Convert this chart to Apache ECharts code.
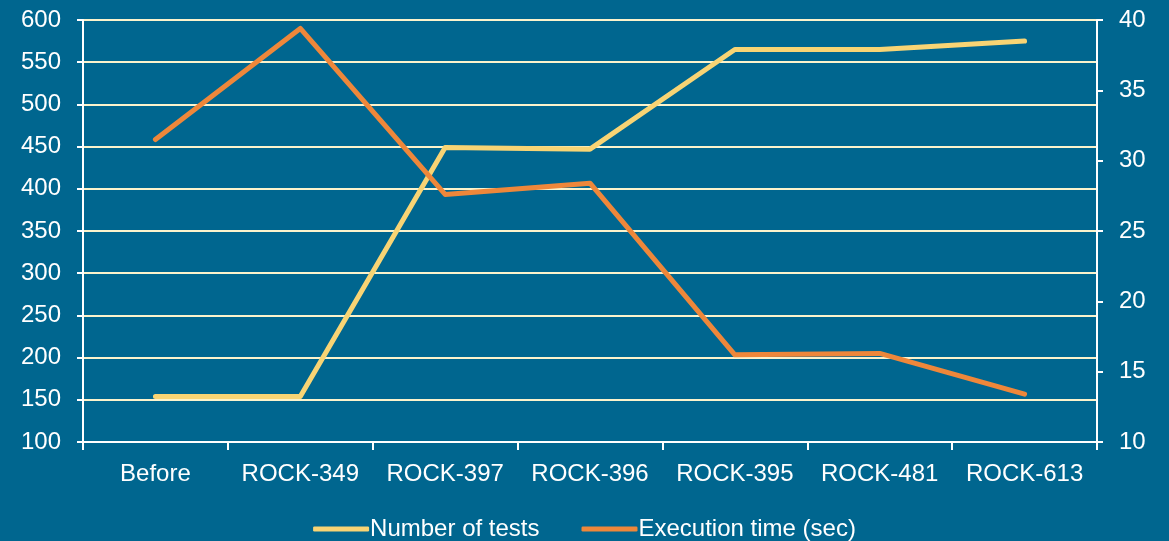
<!DOCTYPE html>
<html>
<head>
<meta charset="utf-8">
<script src="https://cdn.jsdelivr.net/npm/echarts@6/dist/echarts.min.js"></script>
<style>
html,body{margin:0;padding:0;background:#00668f;}
#chart{width:1169px;height:541px;}
</style>
</head>
<body>
<div id="chart"></div>
<script>
const categories = ['Before','ROCK-349','ROCK-397','ROCK-396','ROCK-395','ROCK-481','ROCK-613'];
const numberOfTests = [154, 154, 449, 447, 565, 565, 575];
const executionTime = [31.5, 39.4, 27.6, 28.4, 16.2, 16.3, 13.4];
const leftTicks = {min: 100, max: 600, interval: 50};
const rightTicks = {min: 10, max: 40, interval: 5};

const FONT = '"Liberation Sans", Arial, sans-serif';
const chart = echarts.init(document.getElementById('chart'), null, {renderer: 'canvas'});
chart.setOption({
  backgroundColor: '#00668f',
  animation: false,
  textStyle: {fontFamily: FONT},
  grid: {left: 83, right: 72, top: 20, bottom: 99, containLabel: false},
  legend: {
    top: 512,
    left: 'center',
    itemWidth: 56,
    itemHeight: 5,
    itemGap: 42,
    icon: 'roundRect',
    textStyle: {color: '#ffffff', fontSize: 24, fontFamily: FONT, padding: [0,0,0,-4]},
    data: ['Number of tests', 'Execution time (sec)']
  },
  xAxis: {
    type: 'category',
    data: categories,
    boundaryGap: true,
    axisLine: {lineStyle: {color: '#ffffff', width: 2}},
    axisTick: {show: true, length: 8, interval: 0, lineStyle: {color: '#ffffff', width: 2}},
    axisLabel: {color: '#ffffff', fontSize: 24, margin: 20, interval: 0, fontFamily: FONT}
  },
  yAxis: [
    {
      type: 'value',
      min: leftTicks.min, max: leftTicks.max, interval: leftTicks.interval,
      axisLine: {show: true, lineStyle: {color: '#ffffff', width: 2}},
      axisTick: {show: true, length: 6, lineStyle: {color: '#ffffff', width: 2}},
      axisLabel: {color: '#ffffff', fontSize: 24, margin: 22, fontFamily: FONT},
      splitLine: {show: true, lineStyle: {color: '#fbf3cc', width: 2}}
    },
    {
      type: 'value',
      position: 'right',
      min: rightTicks.min, max: rightTicks.max, interval: rightTicks.interval,
      axisLine: {show: true, lineStyle: {color: '#ffffff', width: 2}},
      axisTick: {show: true, length: 6, lineStyle: {color: '#ffffff', width: 2}},
      axisLabel: {color: '#ffffff', fontSize: 24, margin: 22, fontFamily: FONT},
      splitLine: {show: false}
    }
  ],
  series: [
    {
      name: 'Number of tests',
      type: 'line',
      yAxisIndex: 0,
      data: numberOfTests,
      symbol: 'none',
      color: '#f8d474',
      lineStyle: {color: '#f8d474', width: 5, cap: 'round', join: 'round'}
    },
    {
      name: 'Execution time (sec)',
      type: 'line',
      yAxisIndex: 1,
      data: executionTime,
      symbol: 'none',
      color: '#ee873a',
      lineStyle: {color: '#ee873a', width: 5, cap: 'round', join: 'round'}
    }
  ]
});
</script>
</body>
</html>
